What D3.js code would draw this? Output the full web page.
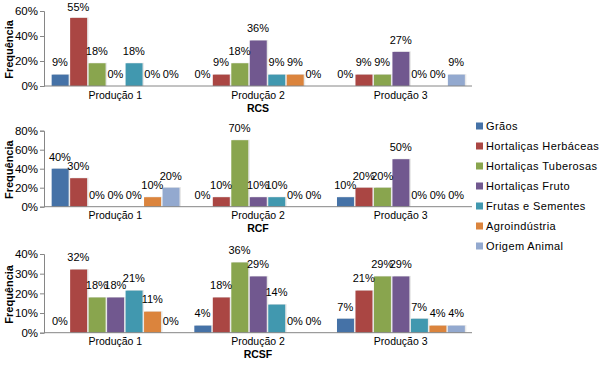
<!DOCTYPE html>
<html>
<head>
<meta charset="utf-8">
<script src="https://cdn.jsdelivr.net/npm/d3@7"></script>
<style>
  body { margin: 0; background: #fff; }
  svg { font-family: "Liberation Sans", Arial, sans-serif; }
</style>
</head>
<body>
<svg id="chart"></svg>
<script>
// categorias e séries
const categorias = ["Produção 1", "Produção 2", "Produção 3"];
const series = ["Grãos", "Hortaliças Herbáceas", "Hortaliças Tuberosas", "Hortaliças Fruto",
  "Frutas e Sementes", "Agroindústria", "Origem Animal"];
const cores = ["#4572a7", "#aa4643", "#89a54e", "#71588f", "#4198af", "#db843d", "#93a9cf"];

// valores por categoria (uma linha por produção, na ordem das séries)
const rcs = [
  [0.091, 0.545, 0.182, 0, 0.182, 0, 0],
  [0, 0.091, 0.182, 0.364, 0.091, 0.091, 0],
  [0, 0.091, 0.091, 0.273, 0, 0, 0.091]
];
const rcf = [
  [0.40, 0.30, 0, 0, 0, 0.10, 0.20],
  [0, 0.10, 0.70, 0.10, 0.10, 0, 0],
  [0.10, 0.20, 0.20, 0.50, 0, 0, 0]
];
const rcsf = [
  [0, 0.321, 0.179, 0.179, 0.214, 0.107, 0],
  [0.036, 0.179, 0.357, 0.286, 0.143, 0, 0],
  [0.071, 0.214, 0.286, 0.286, 0.071, 0.036, 0.036]
];

const titulos = ["RCS", "RCF", "RCSF"];
const ticksRcs = [0, 0.2, 0.4, 0.6];
const ticksRcf = [0, 0.2, 0.4, 0.6, 0.8];
const ticksRcsf = [0, 0.1, 0.2, 0.3, 0.4];

const width = 605, height = 367;
const svg = d3.select("#chart")
  .attr("width", width)
  .attr("height", height)
  .attr("viewBox", [0, 0, width, height]);

const left = 44, right = 472;
const eixoCor = "#868686";
const fmt = d3.format(".0%");

const x0 = d3.scaleBand().domain(categorias).range([left, right]).padding(0);
const x1 = d3.scaleBand().domain(series).range([0, x0.bandwidth()]).paddingInner(0).paddingOuter(0.36);

const paineis = [
  { dados: rcs, ticks: ticksRcs, top: 11, bottom: 86, titulo: titulos[0] },
  { dados: rcf, ticks: ticksRcf, top: 130.7, bottom: 206.7, titulo: titulos[1] },
  { dados: rcsf, ticks: ticksRcsf, top: 254, bottom: 332.7, titulo: titulos[2] }
];

paineis.forEach(p => {
  const y = d3.scaleLinear()
    .domain([0, d3.max(p.ticks)])
    .range([p.bottom, p.top]);

  const g = svg.append("g");

  // eixo y
  g.append("g")
    .attr("transform", `translate(${left},0)`)
    .call(d3.axisLeft(y).tickValues(p.ticks).tickFormat(d3.format(".0%")).tickSize(4).tickPadding(2))
    .call(g => {
      g.select(".domain").attr("stroke", eixoCor);
      g.selectAll(".tick line").attr("stroke", eixoCor);
      g.selectAll(".tick text")
        .attr("font-size", 11.5)
        .attr("font-family", "Liberation Sans, Arial, sans-serif")
        .attr("fill", "#000");
    });

  // barras
  p.dados.forEach((linha, i) => {
    const cat = categorias[i];
    const grupo = g.append("g").attr("transform", `translate(${x0(cat)},0)`);
    const itens = linha.map((v, j) => ({ v, s: series[j], cor: cores[j] }));

    grupo.selectAll(".sombra")
      .data(itens.filter(d => d.v > 0))
      .join("rect")
        .attr("class", "sombra")
        .attr("x", d => x1(d.s) + 2.5)
        .attr("y", d => y(d.v) - 0.5)
        .attr("width", x1.bandwidth() - 1.5)
        .attr("height", d => p.bottom - y(d.v) + 0.5)
        .attr("fill", "#d8d8d8")
        .attr("opacity", 0.6);

    grupo.selectAll(".barra")
      .data(itens.filter(d => d.v > 0))
      .join("rect")
        .attr("class", "barra")
        .attr("x", d => x1(d.s) + 1)
        .attr("y", d => y(d.v))
        .attr("width", x1.bandwidth() - 1.5)
        .attr("height", d => p.bottom - y(d.v))
        .attr("fill", d => d.cor);

    grupo.selectAll(".rotulo")
      .data(itens)
      .join("text")
        .attr("class", "rotulo")
        .attr("x", d => x1(d.s) + x1.bandwidth() / 2)
        .attr("y", d => Math.max(y(d.v) - 12, 7.5))
        .attr("dy", "0.35em")
        .attr("text-anchor", "middle")
        .attr("font-size", 11)
        .attr("fill", "#000")
        .text(d => fmt(d.v));
  });

  // eixo x
  g.append("line")
    .attr("x1", left).attr("x2", right)
    .attr("y1", p.bottom).attr("y2", p.bottom)
    .attr("stroke", eixoCor);

  g.selectAll(".cat")
    .data(categorias)
    .join("text")
      .attr("class", "cat")
      .attr("x", d => x0(d) + x0.bandwidth() / 2)
      .attr("y", p.bottom + 9)
      .attr("dy", "0.35em")
      .attr("text-anchor", "middle")
      .attr("font-size", 10.5)
      .attr("fill", "#000")
      .text(d => d);

  g.append("text")
    .attr("x", (left + right) / 2)
    .attr("y", p.bottom + 22)
    .attr("dy", "0.35em")
    .attr("text-anchor", "middle")
    .attr("font-size", 10.5)
    .attr("font-weight", "bold")
    .attr("fill", "#000")
    .text(p.titulo);

  g.append("text")
    .attr("transform", `translate(9,${(p.top + p.bottom) / 2 + 1}) rotate(-90)`)
    .attr("dy", "0.35em")
    .attr("text-anchor", "middle")
    .attr("font-size", 11)
    .attr("font-weight", "bold")
    .attr("fill", "#000")
    .text("Frequência");
});

// legenda
const legenda = svg.append("g").attr("transform", "translate(476,126)");
const itemLeg = legenda.selectAll("g")
  .data(series)
  .join("g")
    .attr("transform", (d, i) => `translate(0,${i * 20})`);

itemLeg.append("rect")
  .attr("x", 0).attr("y", -3.5)
  .attr("width", 7).attr("height", 7)
  .attr("fill", (d, i) => cores[i]);

itemLeg.append("text")
  .attr("x", 10)
  .attr("dy", "0.35em")
  .attr("font-size", 11)
  .attr("letter-spacing", 0.4)
  .attr("fill", "#000")
  .text(d => d);
</script>
</body>
</html>
